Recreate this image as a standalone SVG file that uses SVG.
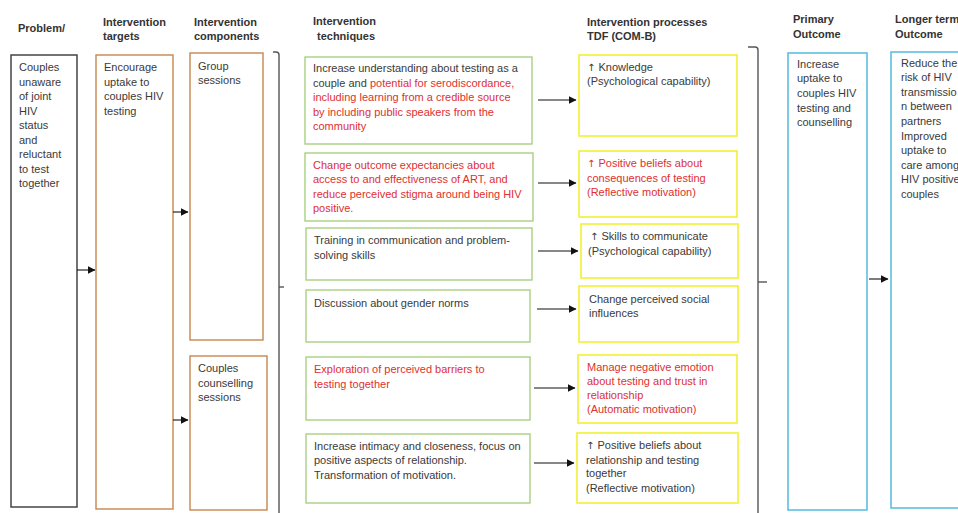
<svg xmlns="http://www.w3.org/2000/svg" width="958" height="513" viewBox="0 0 958 513">
<defs>
<marker id="ah" viewBox="0 0 8 8" refX="7.5" refY="4" markerWidth="8" markerHeight="8" markerUnits="userSpaceOnUse" orient="auto">
<path d="M0,0 L8,4 L0,8 Z" fill="#111"/>
</marker>
<style>
text{font-family:"Liberation Sans",Arial,sans-serif;font-size:11px;fill:#3a3a3a}
.h{font-weight:bold;fill:#333}
.r{fill:#e03030}
.u{font-family:"DejaVu Sans",sans-serif;font-size:10px}
.prob{fill:#fff;stroke:#444;stroke-width:1.5}
.or{fill:#fff;stroke:#c8864e;stroke-width:1.4}
.gr{fill:#fff;stroke:#a8d080;stroke-width:1.4}
.ye{fill:#fff;stroke:#f2f032;stroke-width:1.6}
.bl{fill:#fff;stroke:#5cc0e2;stroke-width:1.6}
.con{stroke:#111;stroke-width:1.1;fill:none;marker-end:url(#ah)}
.br{stroke:#555;stroke-width:1.4;fill:none}
</style>
</defs>
<rect width="958" height="513" fill="#fff"/>

<g id="headers">
<text class="h" x="18" y="32">Problem/</text>
<text class="h" x="103" y="26">Intervention</text>
<text class="h" x="103" y="40">targets</text>
<text class="h" x="194" y="26">Intervention</text>
<text class="h" x="194" y="40">components</text>
<text class="h" x="313" y="25">Intervention</text>
<text class="h" x="317" y="40">techniques</text>
<text class="h" x="587" y="26">Intervention processes</text>
<text class="h" x="587" y="40">TDF (COM-B)</text>
<text class="h" x="793" y="23">Primary</text>
<text class="h" x="793" y="38">Outcome</text>
<text class="h" x="895" y="23">Longer term</text>
<text class="h" x="895" y="38">Outcome</text>
</g>

<g id="problem">
<rect class="prob" x="11" y="55" width="66" height="452"/>
<text x="19" y="71">Couples</text>
<text x="19" y="85.5">unaware</text>
<text x="19" y="100">of joint</text>
<text x="19" y="114.5">HIV</text>
<text x="19" y="129">status</text>
<text x="19" y="143.5">and</text>
<text x="19" y="158">reluctant</text>
<text x="19" y="172.5">to test</text>
<text x="19" y="187">together</text>
</g>

<g id="targets">
<rect class="or" x="96" y="55" width="77" height="454"/>
<text x="104" y="71">Encourage</text>
<text x="104" y="85.5">uptake to</text>
<text x="104" y="100">couples HIV</text>
<text x="104" y="114.5">testing</text>
</g>

<g id="group-sessions">
<rect class="or" x="190" y="53" width="73" height="287"/>
<text x="198" y="69.5">Group</text>
<text x="198" y="84">sessions</text>
</g>

<g id="couples-sessions">
<rect class="or" x="190" y="356" width="77" height="154"/>
<text x="198" y="372">Couples</text>
<text x="198" y="386.5">counselling</text>
<text x="198" y="401">sessions</text>
</g>

<g id="tech1">
<rect class="gr" x="305" y="57" width="227" height="87"/>
<text x="313" y="72">Increase understanding about testing as a</text>
<text x="313" y="86.5">couple and <tspan class="r">potential for serodiscordance,</tspan></text>
<text class="r" x="313" y="101">including learning from a credible source</text>
<text class="r" x="313" y="115.5">by including public speakers from the</text>
<text class="r" x="313" y="130">community</text>
</g>

<g id="tech2">
<rect class="gr" x="305" y="153" width="228" height="68"/>
<text class="r" x="313" y="168.5">Change outcome  expectancies about</text>
<text class="r" x="313" y="183">access to and effectiveness  of ART,  and</text>
<text class="r" x="313" y="197.5">reduce  perceived stigma around being HIV</text>
<text class="r" x="313" y="212">positive.</text>
</g>

<g id="tech3">
<rect class="gr" x="306" y="228" width="226" height="52"/>
<text x="314" y="243.5">Training in communication and problem-</text>
<text x="314" y="258.5">solving skills</text>
</g>

<g id="tech4">
<rect class="gr" x="306" y="290" width="224" height="52"/>
<text x="314" y="306.5">Discussion about gender norms</text>
</g>

<g id="tech5">
<rect class="gr" x="306" y="357" width="224" height="63"/>
<text class="r" x="314" y="372.5">Exploration of perceived barriers to</text>
<text class="r" x="314" y="387.5">testing together</text>
</g>

<g id="tech6">
<rect class="gr" x="306" y="434" width="224" height="69"/>
<text x="314" y="449.5">Increase intimacy and closeness, focus on</text>
<text x="314" y="464">positive aspects of relationship.</text>
<text x="314" y="479">Transformation of motivation.</text>
</g>

<g id="proc1">
<rect class="ye" x="579" y="55" width="158" height="81"/>
<text x="587" y="70.5"><tspan class="u">↑</tspan> Knowledge</text>
<text x="587" y="85">(Psychological capability)</text>
</g>

<g id="proc2">
<rect class="ye" x="579" y="151" width="158" height="66"/>
<text class="r" x="587" y="167"><tspan class="u">↑</tspan> Positive beliefs about</text>
<text class="r" x="587" y="181.5">consequences of testing</text>
<text class="r" x="587" y="196">(Reflective motivation)</text>
</g>

<g id="proc3">
<rect class="ye" x="581" y="224" width="157" height="54"/>
<text x="590" y="240"><tspan class="u">↑</tspan> Skills to communicate</text>
<text x="588" y="254.5">(Psychological capability)</text>
</g>

<g id="proc4">
<rect class="ye" x="579" y="286" width="159" height="56"/>
<text x="589" y="302.5">Change perceived  social</text>
<text x="589" y="316.5">influences</text>
</g>

<g id="proc5">
<rect class="ye" x="578" y="355" width="159" height="68"/>
<text class="r" x="587" y="370.5">Manage negative emotion</text>
<text class="r" x="587" y="384.5">about testing and trust in</text>
<text class="r" x="587" y="399">relationship</text>
<text class="r" x="587" y="413">(Automatic motivation)</text>
</g>

<g id="proc6">
<rect class="ye" x="577" y="433" width="161" height="70"/>
<text x="586" y="448.5"><tspan class="u">↑</tspan> Positive beliefs about</text>
<text x="586" y="463.5">relationship and testing</text>
<text x="586" y="477">together</text>
<text x="586" y="492">(Reflective motivation)</text>
</g>

<g id="primary">
<rect class="bl" x="788" y="53" width="79" height="457"/>
<text x="797" y="67.5">Increase</text>
<text x="797" y="82.2">uptake to</text>
<text x="797" y="96.9">couples HIV</text>
<text x="797" y="111.6">testing and</text>
<text x="797" y="126.3">counselling</text>
</g>

<g id="longer">
<rect class="bl" x="891" y="52" width="80" height="456"/>
<text x="901" y="66.5">Reduce the</text>
<text x="901" y="81.1">risk of HIV</text>
<text x="901" y="95.7">transmissio</text>
<text x="901" y="110.3">n between</text>
<text x="901" y="124.9">partners</text>
<text x="901" y="139.5">Improved</text>
<text x="901" y="154.1">uptake to</text>
<text x="901" y="168.7">care among</text>
<text x="901" y="183.3">HIV positive</text>
<text x="901" y="197.9">couples</text>
</g>

<g id="connectors">
<path class="con" d="M77,270 H95"/>
<path class="con" d="M173,212 H188"/>
<path class="con" d="M173,420 H188"/>
<path class="con" d="M538,100 H576"/>
<path class="con" d="M538,183 H576"/>
<path class="con" d="M538,251 H578"/>
<path class="con" d="M537,309 H576"/>
<path class="con" d="M534,388 H575"/>
<path class="con" d="M534,463 H574"/>
<path class="con" d="M869,279 H888"/>
<path class="br" d="M273,52 H276 Q279,52 279,55 V513"/>
<path class="br" d="M279,287 H284"/>
<path class="br" d="M748,47 H755 Q758,47 758,50 V513"/>
<path class="br" d="M758,282 H767"/>
</g>
</svg>
